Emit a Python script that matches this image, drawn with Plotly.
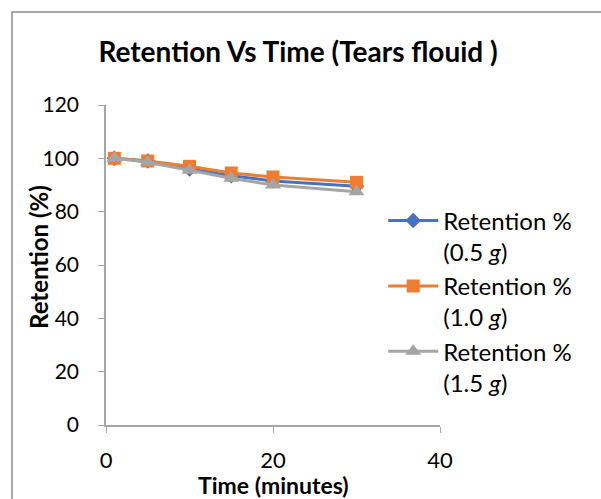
import plotly.graph_objects as go

# Sampling times (minutes)
time_min = [1, 5, 10, 15, 20, 30]

# Retention (%) for each gel amount
retention_05 = [100, 99.0, 96.0, 93.5, 91.5, 89.5]
retention_10 = [100, 99.0, 97.0, 94.5, 93.0, 91.0]
retention_15 = [100, 98.5, 95.5, 92.5, 90.0, 87.5]

series_names = [
    "Retention %<br>(0.5 <i>g</i>)",
    "Retention %<br>(1.0 <i>g</i>)",
    "Retention %<br>(1.5 <i>g</i>)",
]
series_colors = ["#4472C4", "#ED7D31", "#A5A5A5"]
series_symbols = ["diamond", "square", "triangle-up"]
series_sizes = [12, 13, 14]

x_ticks = [0, 20, 40]
y_ticks = [0, 20, 40, 60, 80, 100, 120]

FONT = "Lato"

fig = go.Figure()
for i, vals in enumerate([retention_05, retention_10, retention_15]):
    fig.add_trace(go.Scatter(
        x=time_min, y=vals, name=series_names[i],
        mode="lines+markers",
        line=dict(color=series_colors[i], width=3),
        marker=dict(symbol=series_symbols[i], size=series_sizes[i],
                    color=series_colors[i]),
        legendgroup=f"g{i}",
    ))

axis_color = "#a6a6a6"
fig.update_layout(
    width=601, height=499,
    margin=dict(l=106, r=161, t=105, b=74, autoexpand=False),
    paper_bgcolor="white", plot_bgcolor="white",
    font=dict(family=FONT, size=20, color="black"),
    title=dict(text="<b>Retention Vs Time (Tears flouid )</b>",
               x=0.496, xanchor="center", y=1 - 52 / 499, yanchor="middle",
               font=dict(size=28, family=FONT)),
    xaxis=dict(range=[0, 40], tickvals=x_ticks, showgrid=False, zeroline=False,
               showline=True, linecolor=axis_color, linewidth=1.5,
               ticks="outside", ticklen=6, tickcolor=axis_color,
               ticklabelstandoff=9, tickfont=dict(size=22), automargin=False),
    yaxis=dict(range=[0, 120], tickvals=y_ticks, showgrid=False, zeroline=False,
               showline=True, linecolor=axis_color, linewidth=1.5,
               ticks="outside", ticklen=6, tickcolor=axis_color,
               ticklabelstandoff=15, tickfont=dict(size=21), automargin=False),
    legend=dict(x=0.83, y=0.708, xanchor="left", yanchor="top",
                bgcolor="rgba(0,0,0,0)", valign="top", itemwidth=50,
                tracegroupgap=0, font=dict(size=24)),
    showlegend=True,
)

# Axis titles placed as annotations (the y title sits over the tick labels)
fig.add_annotation(text="<b>Time (minutes)</b>",
                   xref="paper", yref="paper",
                   x=(273 - 106) / 334, y=(425 - 485) / 320,
                   xanchor="center", yanchor="middle", showarrow=False,
                   font=dict(size=23, family=FONT))
fig.add_annotation(text="<b>Retention (%)</b>", textangle=-90,
                   xref="paper", yref="paper",
                   x=(38 - 106) / 334, y=(425 - 257) / 320,
                   xanchor="center", yanchor="middle", showarrow=False,
                   font=dict(size=24, family=FONT))

# Chart frame (top and left edges)
fig.add_shape(type="path",
              path="M -0.2814,-0.5 L -0.2814,1.2906 L 1.6,1.2906",
              xref="paper", yref="paper",
              line=dict(color="#8c8c8c", width=1.5))

fig.write_html("out.html")
